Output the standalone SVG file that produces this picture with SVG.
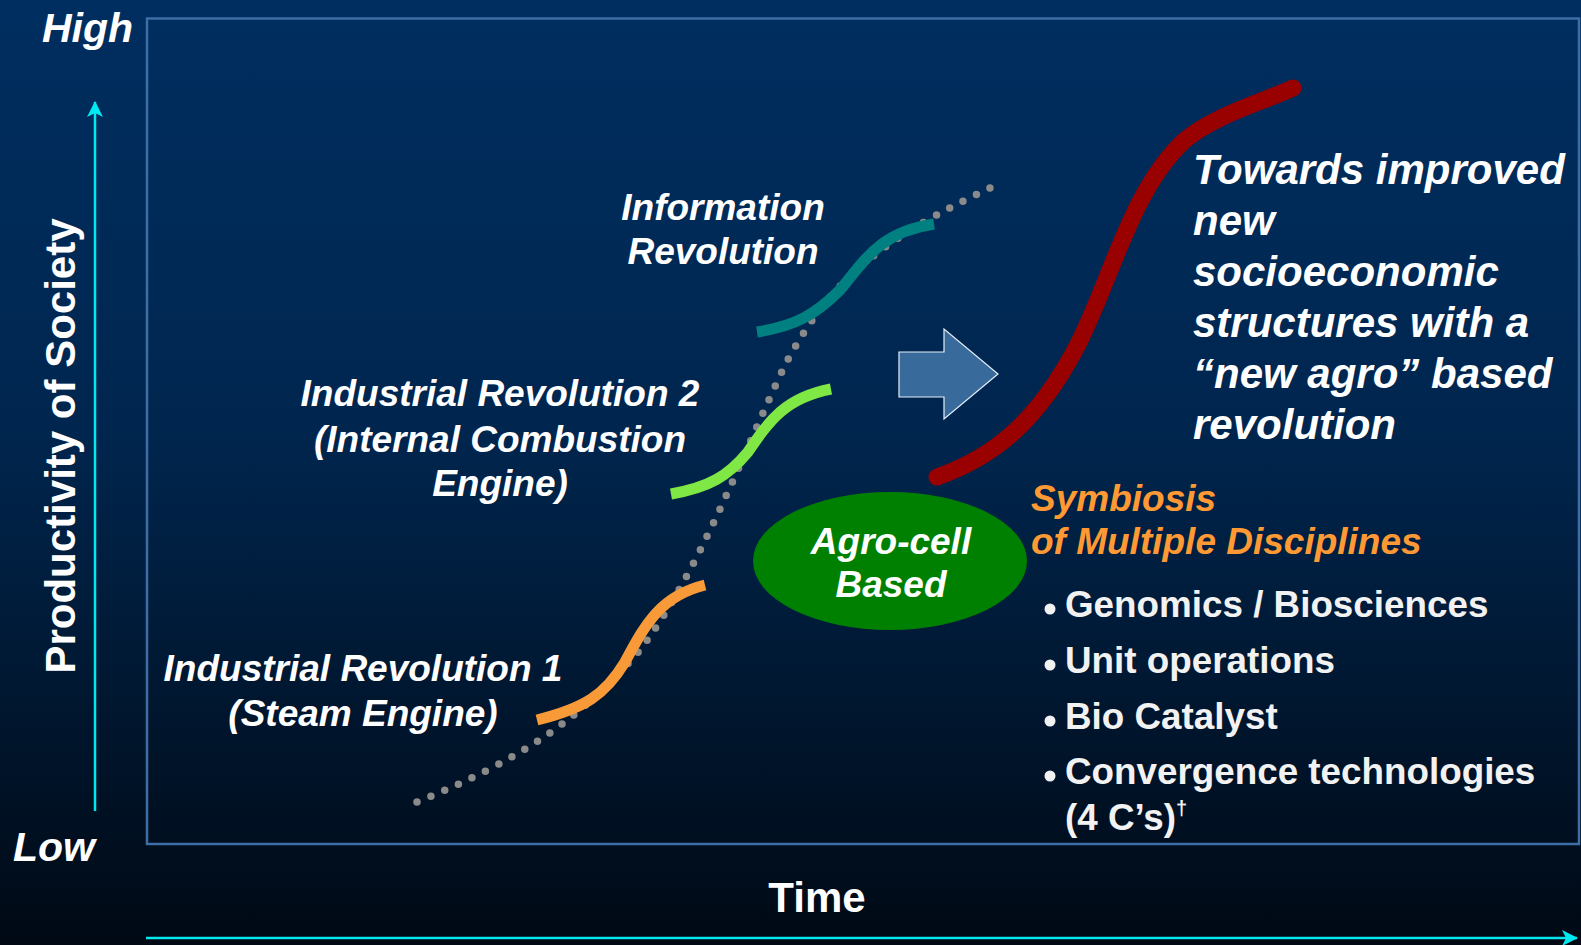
<svg xmlns="http://www.w3.org/2000/svg" width="1581" height="945" viewBox="0 0 1581 945">
<defs>
<linearGradient id="bg" x1="0" y1="0" x2="0" y2="1">
<stop offset="0" stop-color="#002e60"/>
<stop offset="0.45" stop-color="#00264f"/>
<stop offset="1" stop-color="#000914"/>
</linearGradient>
<marker id="cyanHead" markerWidth="16" markerHeight="16" refX="15" refY="8" orient="auto" markerUnits="userSpaceOnUse">
<path d="M0,0 L16,8 L0,16 L4,8 Z" fill="#00e8f0"/>
</marker>
</defs>
<style>
text{font-family:"Liberation Sans",Arial,sans-serif;font-weight:bold;fill:#ffffff}
.it{font-style:italic}
.lbl{font-size:37px;font-style:italic;text-anchor:middle}
.big{font-size:42px;font-style:italic}
.org{fill:#ff9933;font-size:37px;font-style:italic}
.bul{font-size:36.8px;fill:#f2f2f2}
.axis{stroke:#00e8f0;stroke-width:2.5;fill:none}
.sc{fill:none;stroke-width:11}
</style>
<rect x="0" y="0" width="1581" height="945" fill="url(#bg)"/>
<rect x="147" y="18.5" width="1432" height="825.5" fill="none" stroke="#3d6ea5" stroke-width="2.5"/>

<g id="axes">
<line class="axis" x1="95" y1="811" x2="95" y2="102" marker-end="url(#cyanHead)"/>
<line class="axis" x1="146" y1="938" x2="1577" y2="938" marker-end="url(#cyanHead)"/>
</g>

<g id="axis-labels">
<text id="high" class="it" x="42" y="42" font-size="41">High</text>
<text id="low" class="it" x="13" y="861" font-size="41">Low</text>
<text id="time" x="817" y="912" font-size="42" text-anchor="middle">Time</text>
<text id="productivity" x="0" y="0" font-size="42" text-anchor="middle" transform="translate(75,446) rotate(-90)">Productivity of Society</text>
</g>

<g id="connectors">
<path id="trend" d="M417,802 C520,760 580,720 640,650 C700,570 740,460 785,365 C830,280 880,240 994,186" fill="none" stroke="#8a8a8a" stroke-width="7.5" stroke-linecap="round" stroke-dasharray="0 15"/>
</g>

<g id="ir1-curve"><path class="sc" stroke="#f99a38" d="M537,720 C585,708 605,695 625,662 C645,625 660,596 705,585"/></g>
<g id="ir2-curve"><path class="sc" stroke="#7fe844" d="M671,494 C710,487 728,476 748,452 C770,420 785,398 831,389"/></g>
<g id="info-curve"><path class="sc" stroke="#008080" d="M757,332 C795,326 815,315 840,290 C865,260 880,232 934,224"/></g>
<g id="agro-curve"><path fill="none" stroke="#990000" stroke-width="17" stroke-linecap="round" d="M937,477 C1000,455 1040,415 1075,350 C1110,285 1130,190 1185,140 C1215,115 1260,103 1293,88"/></g>

<g id="block-arrow">
<path d="M899,352 L944,352 L944,329 L998,374 L944,419 L944,397 L899,397 Z" fill="#386a9c" stroke="#e6eef8" stroke-width="1.2"/>
</g>

<g id="agro-cell">
<ellipse cx="890" cy="561" rx="137" ry="69" fill="#008000"/>
<text class="lbl" x="891" y="554" font-size="36">Agro-cell</text>
<text class="lbl" x="891" y="597" font-size="36">Based</text>
</g>

<g id="info-label">
<text class="lbl" x="723" y="220">Information</text>
<text class="lbl" x="723" y="264">Revolution</text>
</g>

<g id="ir2-label">
<text class="lbl" x="500" y="406">Industrial Revolution 2</text>
<text class="lbl" x="500" y="452">(Internal Combustion</text>
<text class="lbl" x="500" y="496">Engine)</text>
</g>

<g id="ir1-label">
<text class="lbl" x="363" y="681">Industrial Revolution 1</text>
<text class="lbl" x="363" y="726">(Steam Engine)</text>
</g>

<g id="towards">
<text class="big" x="1193" y="184">Towards improved</text>
<text class="big" x="1193" y="235">new</text>
<text class="big" x="1193" y="286">socioeconomic</text>
<text class="big" x="1193" y="337">structures with a</text>
<text class="big" x="1193" y="388">“new agro” based</text>
<text class="big" x="1193" y="439">revolution</text>
</g>

<g id="symbiosis">
<text class="org" x="1031" y="511">Symbiosis</text>
<text class="org" x="1031" y="554">of Multiple Disciplines</text>
</g>

<g id="disciplines">
<circle cx="1050" cy="609" r="5.5" fill="#f2f2f2"/>
<text class="bul" x="1065" y="617">Genomics / Biosciences</text>
<circle cx="1050" cy="665" r="5.5" fill="#f2f2f2"/>
<text class="bul" x="1065" y="673">Unit operations</text>
<circle cx="1050" cy="721" r="5.5" fill="#f2f2f2"/>
<text class="bul" x="1065" y="729">Bio Catalyst</text>
<circle cx="1050" cy="776" r="5.5" fill="#f2f2f2"/>
<text class="bul" x="1065" y="784">Convergence technologies</text>
<text class="bul" x="1065" y="830">(4 C’s)<tspan font-size="20" dy="-15">†</tspan></text>
</g>
</svg>
